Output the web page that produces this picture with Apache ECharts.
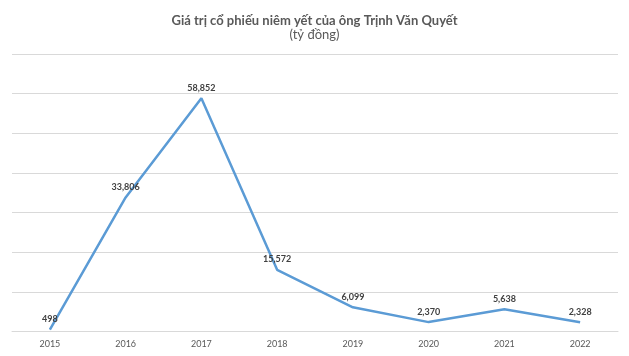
<!DOCTYPE html>
<html>
<head>
<meta charset="utf-8">
<script src="https://cdn.jsdelivr.net/npm/echarts@6/dist/echarts.min.js"></script>
<style>
html,body{margin:0;padding:0;background:#fff;}
#c{width:629px;height:356px;}
</style>
</head>
<body>
<div id="c"></div>
<script>
const years = ['2015','2016','2017','2018','2019','2020','2021','2022'];
const values = [498, 33806, 58852, 15572, 6099, 2370, 5638, 2328];
const titleText = 'Giá trị cổ phiếu niêm yết của ông Trịnh Văn Quyết';
const subtitleText = '(tỷ đồng)';

const chart = echarts.init(document.getElementById('c'));
chart.setOption({
  backgroundColor: '#ffffff',
  animation: false,
  title: {
    text: titleText,
    subtext: subtitleText,
    left: 'center',
    top: 9,
    itemGap: 1,
    textStyle: { fontFamily: 'Lato', fontSize: 13, fontWeight: 'bold', color: '#595959' },
    subtextStyle: { fontFamily: 'Lato', fontSize: 13, color: '#595959' }
  },
  grid: { left: 12, right: 11, top: 54, bottom: 24.5, containLabel: false },
  xAxis: {
    type: 'category',
    data: years,
    boundaryGap: true,
    axisLine: { show: true, lineStyle: { color: '#d9d9d9', width: 1 } },
    axisTick: { show: false },
    axisLabel: { color: '#595959', fontFamily: 'Lato', fontSize: 9, margin: 8 }
  },
  yAxis: {
    type: 'value',
    min: 0, max: 70000, interval: 10000,
    axisLabel: { show: false },
    axisLine: { show: false },
    axisTick: { show: false },
    splitLine: { lineStyle: { color: '#d9d9d9', width: 1 } }
  },
  series: [{
    type: 'line',
    data: values,
    symbol: 'circle',
    symbolSize: 0,
    showSymbol: true,
    lineStyle: { color: '#5b9bd5', width: 2.5 },
    itemStyle: { color: '#5b9bd5' },
    label: {
      show: true,
      position: 'top',
      distance: 6,
      fontFamily: 'Lato',
      fontSize: 9,
      fontWeight: 'bold',
      color: '#404040',
      formatter: p => p.value.toLocaleString('en-US')
    }
  }]
});
</script>
</body>
</html>
